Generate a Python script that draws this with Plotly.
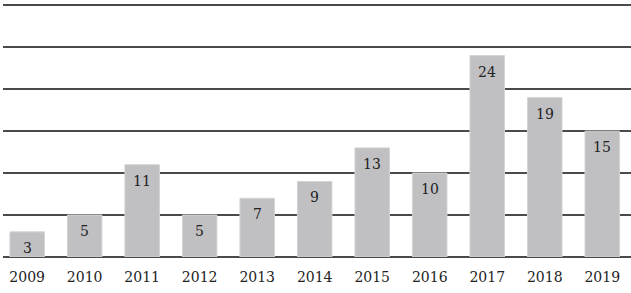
import plotly.graph_objects as go

years = ["2009", "2010", "2011", "2012", "2013", "2014", "2015", "2016", "2017", "2018", "2019"]
values = [3, 5, 11, 5, 7, 9, 13, 10, 24, 19, 15]

font_family = "DejaVu Serif"

fig = go.Figure()
fig.add_trace(go.Bar(
    x=years, y=values,
    marker=dict(color="#c0c0c2", line=dict(color="#d4d4d6", width=1)),
    width=0.6,
    hoverinfo="skip",
))

for i, v in enumerate(values):
    fig.add_annotation(x=i, y=v, xref="x", yref="y", text=str(v), showarrow=False,
                       yanchor="middle", yshift=-16,
                       font=dict(family=font_family, size=14, color="#222"))

fig.update_layout(
    width=631, height=293,
    margin=dict(l=3, r=0, t=4, b=36),
    paper_bgcolor="white", plot_bgcolor="white",
    showlegend=False,
    bargap=0.4,
    hovermode=False,
    xaxis=dict(type="category", range=[-0.42, 10.5], showgrid=False, showline=False,
               zeroline=False, automargin=False,
               ticks="", ticklabelstandoff=10,
               tickfont=dict(family=font_family, size=14, color="#222")),
    yaxis=dict(range=[0, 30.15], tickvals=[0, 5, 10, 15, 20, 25, 30], showgrid=True,
               gridcolor="#4a4a4a", gridwidth=2, automargin=False,
               zeroline=True, zerolinecolor="#4a4a4a", zerolinewidth=2,
               showticklabels=False, ticks="", showline=False),
)

fig.write_html("out.html", config={"displayModeBar": False},
               post_script="document.body.style.margin='0';document.body.style.overflow='hidden';")
